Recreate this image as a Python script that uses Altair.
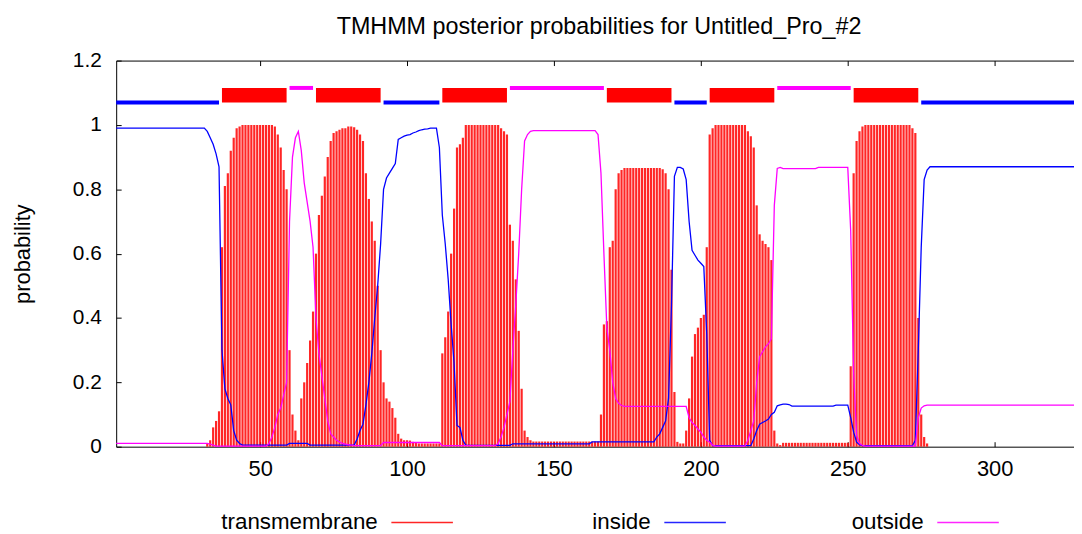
import altair as alt
import pandas as pd

# ---------------- data ----------------
N = 327
positions = list(range(1, N + 1))

transmembrane = (
    [0.0] * 31
    + [0.01, 0.02, 0.06, 0.08, 0.11, 0.62, 0.81, 0.85, 0.92, 0.96, 0.99, 0.995]
    + [1.0] * 11
    + [0.995, 0.97, 0.93, 0.86, 0.8, 0.3, 0.1, 0.05, 0.02]
    + [0.15, 0.2, 0.26, 0.33, 0.42, 0.6, 0.72, 0.78, 0.84, 0.9,
       0.95, 0.975, 0.98, 0.985, 0.99, 0.99, 0.995, 0.995, 0.993, 0.985,
       0.97, 0.95, 0.85, 0.77, 0.7, 0.64, 0.5, 0.3, 0.2, 0.15,
       0.14, 0.12, 0.09, 0.04, 0.025, 0.02, 0.02, 0.019, 0.015, 0.014]
    + [0.01] * 8
    + [0.29, 0.34, 0.42, 0.6, 0.74, 0.93, 0.94, 0.96]
    + [1.0] * 12
    + [0.99, 0.98, 0.97, 0.69, 0.64, 0.52, 0.36, 0.18, 0.05, 0.03, 0.02]
    + [0.016] * 23
    + [0.1, 0.38, 0.39, 0.62, 0.64, 0.8, 0.85, 0.86]
    + [0.866] * 13
    + [0.862, 0.85, 0.8, 0.55, 0.17, 0.015, 0.01, 0.01, 0.05, 0.15,
       0.28, 0.35, 0.37, 0.4, 0.41, 0.62, 0.97, 0.99]
    + [1.0] * 11
    + [0.98, 0.965, 0.93, 0.75, 0.66, 0.64, 0.63, 0.62, 0.58, 0.05, 0.01, 0.005]
    + [0.012] * 23
    + [0.25, 0.85, 0.95, 0.98, 0.995]
    + [1.0] * 16
    + [0.99, 0.975, 0.4, 0.1, 0.03, 0.01]
    + [0.0] * 50
)

inside = (
    [0.99] * 31
    + [0.98, 0.96, 0.94, 0.91, 0.87, 0.30, 0.18, 0.15, 0.13, 0.05, 0.02, 0.01]
    + [0.005] * 16
    + [0.01] * 7
    + [0.005] * 16
    + [0.024, 0.05, 0.07, 0.13, 0.2, 0.29, 0.4, 0.5, 0.63, 0.8,
       0.835, 0.85, 0.865, 0.88, 0.955, 0.96, 0.965, 0.968, 0.97, 0.975,
       0.978, 0.982, 0.985, 0.987, 0.988, 0.99, 0.99, 0.99, 0.93, 0.72,
       0.63, 0.52, 0.38, 0.26, 0.066, 0.06, 0.02]
    + [0.004] * 16
    + [0.009] * 27
    + [0.015] * 22
    + [0.03, 0.04, 0.06, 0.08, 0.15, 0.44, 0.84, 0.868, 0.868, 0.863,
       0.83, 0.70, 0.61, 0.595, 0.58, 0.57, 0.56, 0.35, 0.02]
    + [0.003] * 14
    + [0.024, 0.05, 0.07, 0.075, 0.08, 0.086, 0.1, 0.107, 0.127, 0.13, 0.132, 0.132, 0.131]
    + [0.126] * 15
    + [0.129] * 5
    + [0.09, 0.045, 0.014, 0.006]
    + [0.003] * 18
    + [0.02, 0.3, 0.62, 0.83, 0.86]
    + [0.87] * 50
)

outside = (
    [0.01] * 32
    + [0.008, 0.005]
    + [0.002] * 18
    + [0.01, 0.03, 0.06, 0.1, 0.12, 0.16, 0.2, 0.7, 0.9, 0.96,
       0.98, 0.92, 0.82, 0.76, 0.7, 0.62, 0.4, 0.29, 0.22, 0.15,
       0.08, 0.04, 0.03, 0.02, 0.015, 0.01, 0.008, 0.006, 0.005]
    + [0.003] * 10
    + [0.013] * 20
    + [0.003] * 19
    + [0.01, 0.03, 0.06, 0.1, 0.14, 0.3, 0.44, 0.6, 0.8, 0.95, 0.97, 0.98]
    + [0.982] * 22
    + [0.97, 0.85, 0.6, 0.37, 0.3, 0.2, 0.15, 0.135, 0.128]
    + [0.125] * 22
    + [0.09, 0.075, 0.066, 0.055, 0.045, 0.03, 0.02, 0.014, 0.005]
    + [0.002] * 11
    + [0.02, 0.05, 0.08, 0.2, 0.28, 0.295, 0.31, 0.32, 0.335, 0.75, 0.865, 0.868]
    + [0.864] * 12
    + [0.868] * 11
    + [0.67, 0.23, 0.035, 0.01, 0.004]
    + [0.002] * 18
    + [0.09, 0.12, 0.127]
    + [0.129] * 51
)

assert len(transmembrane) == N and len(inside) == N and len(outside) == N

# predicted topology (segments drawn above the curves)
topo_start = [1, 37, 60, 69, 92, 112, 135, 168, 191, 203, 226, 252, 275]
topo_end = [36, 59, 68, 91, 111, 134, 167, 190, 202, 225, 251, 274, 327]
topo_type = ["inside", "TMhelix", "outside", "TMhelix", "inside", "TMhelix",
             "outside", "TMhelix", "inside", "TMhelix", "outside", "TMhelix", "inside"]

series_names = ["transmembrane", "inside", "outside"]
series_colors = ["#ff0000", "#0000ff", "#ff00ff"]
x_ticks = [50, 100, 150, 200, 250, 300]
y_ticks = [0, 0.2, 0.4, 0.6, 0.8, 1.0, 1.2]

# ---------------- tables ----------------
tm_df = pd.DataFrame({"pos": positions, "prob": transmembrane, "series": "transmembrane"})
line_df = pd.concat([
    pd.DataFrame({"pos": positions, "prob": inside, "series": "inside"}),
    pd.DataFrame({"pos": positions, "prob": outside, "series": "outside"}),
])
topo_df = pd.DataFrame({"start": topo_start, "end": topo_end, "type": topo_type})

# ---------------- chart ----------------
W, H = 965, 389
FONT = "Liberation Sans"

xscale = alt.Scale(domain=[1, 327], nice=False, zero=False)
yscale = alt.Scale(domain=[0, 1.2], nice=False, zero=False)
cscale = alt.Scale(domain=series_names, range=series_colors)

# gnuplot-style key: label first, then a line sample to its right
# (custom symbol path drawn to the right of the nominal symbol box)
legend = alt.Legend(
    title=None, orient="none", legendX=241, legendY=454,
    direction="horizontal", columns=3, gridAlign="all",
    symbolType="M5,0L17.4,0", symbolSize=100, symbolStrokeWidth=1.5,
    symbolFillColor="transparent",
    labelAlign="right", labelOffset=0, labelBaseline="middle",
    labelFont=FONT, labelFontSize=22.5, labelColor="black", labelLimit=400,
    columnPadding=122, padding=0,
)

tm_layer = alt.Chart(tm_df).mark_rule(strokeWidth=2.2, opacity=0.85).encode(
    x=alt.X("pos:Q", scale=xscale, axis=alt.Axis(
        orient="bottom", values=x_ticks, ticks=False, grid=False, title=None,
        labelFont=FONT, labelFontSize=22, labelColor="black", labelPadding=12,
        domainColor="black", domainWidth=1)),
    y=alt.Y("prob:Q", scale=yscale, axis=alt.Axis(
        orient="left", values=y_ticks, format=".1~f", ticks=False, grid=False,
        labelFont=FONT, labelFontSize=21, labelColor="black", labelPadding=15,
        domainColor="black", domainWidth=1,
        title="probability", titleFont=FONT, titleFontSize=22, titleFontWeight="normal",
        titleColor="black", titleAngle=-90, titleX=-87, titleY=H / 2,
        titleAlign="center", titleBaseline="alphabetic")),
    y2=alt.datum(0),
    color=alt.Color("series:N", scale=cscale, legend=legend),
)

line_layer = alt.Chart(line_df).mark_line(strokeWidth=1.3).encode(
    x=alt.X("pos:Q", scale=xscale, axis=alt.Axis(
        orient="top", offset=-H, values=x_ticks, labels=False, domain=False,
        ticks=True, tickSize=5, tickColor="black", grid=False, title=None)),
    y=alt.Y("prob:Q", scale=yscale, axis=alt.Axis(
        orient="right", offset=-W, values=y_ticks, labels=False, domain=False,
        ticks=True, tickSize=5, tickColor="black", grid=False, title=None)),
    color=alt.Color("series:N", scale=cscale, legend=legend),
)

topo_tm = alt.Chart(topo_df).transform_filter(alt.datum.type == "TMhelix").mark_rect(
    color="#ff0000").encode(
    x=alt.X("start:Q", scale=xscale, axis=alt.Axis(
        orient="bottom", offset=-H, values=x_ticks, labels=False, domain=True,
        domainColor="black", domainWidth=1,
        ticks=True, tickSize=5, tickColor="black", grid=False, title=None)),
    x2="end:Q",
    y=alt.Y(datum=1.07, scale=yscale, axis=None),
    y2=alt.datum(1.115),
)

topo_in = alt.Chart(topo_df).transform_filter(alt.datum.type == "inside").mark_rule(
    color="#0000ff", strokeWidth=4).encode(
    x=alt.X("start:Q", scale=xscale, axis=None),
    x2="end:Q",
    y=alt.Y(datum=1.07, scale=yscale, axis=None),
)

topo_out = alt.Chart(topo_df).transform_filter(alt.datum.type == "outside").mark_rule(
    color="#ff00ff", strokeWidth=4).encode(
    x=alt.X("start:Q", scale=xscale, axis=None),
    x2="end:Q",
    y=alt.Y(datum=1.115, scale=yscale, axis=None),
)

chart = alt.layer(tm_layer, line_layer, topo_tm, topo_in, topo_out).resolve_axis(
    x="independent", y="independent"
).properties(
    width=W, height=H,
    title=alt.TitleParams(
        "TMHMM posterior probabilities for Untitled_Pro_#2",
        font=FONT, fontSize=23.5, fontWeight="normal", color="black",
        anchor="middle", offset=11, dx=4),
    autosize=alt.AutoSizeParams(type="none"),
    padding={"left": 109, "top": 51, "right": 0, "bottom": 86},
).configure(background="white").configure_view(strokeWidth=0)

chart.save("out.html", embed_options={"renderer": "svg", "actions": False})
